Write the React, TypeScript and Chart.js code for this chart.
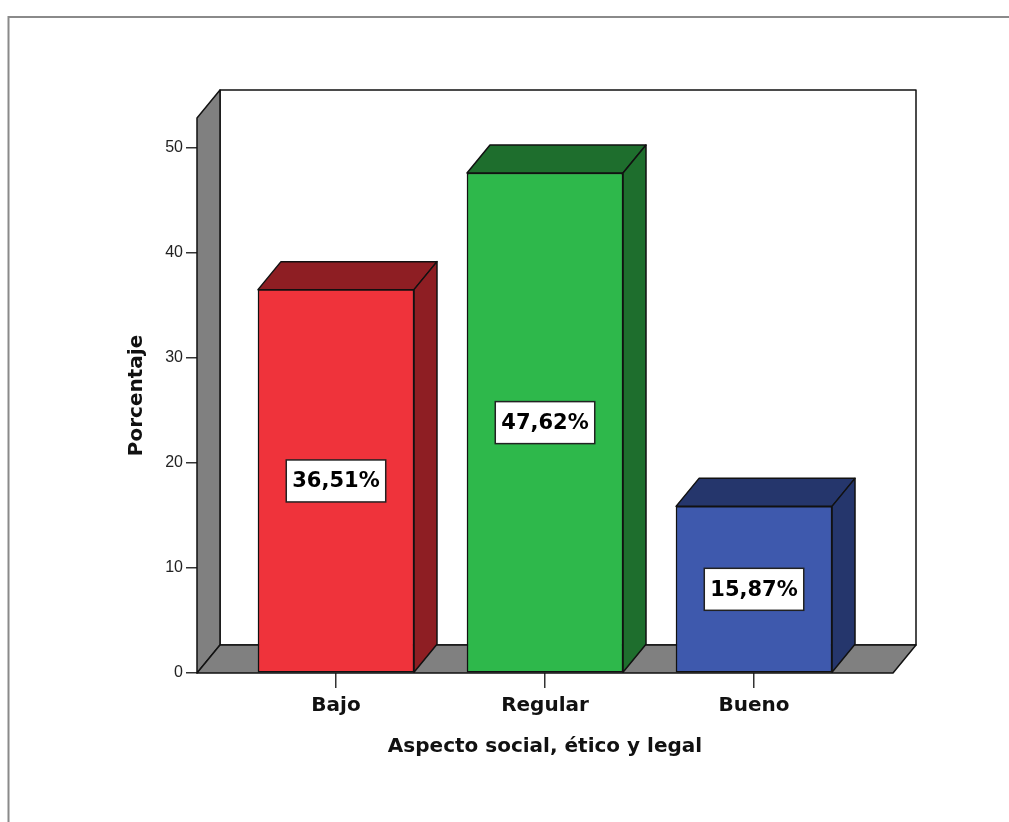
import { useEffect, useRef } from 'react';
import { Chart, registerables } from 'chart.js';

Chart.register(...registerables);

// Categories and percentages
const categories = ['Bajo', 'Regular', 'Bueno'];
const percentages = [36.51, 47.62, 15.87];
const yTickValues = [0, 10, 20, 30, 40, 50];

const xTitle = 'Aspecto social, ético y legal';
const yTitle = 'Porcentaje';

// Face colours: front face and the shaded top/side faces
const frontColors = ['#EF333B', '#2EB84B', '#3E59AD'];
const sideColors = ['#8E1E23', '#1E6E2D', '#25366C'];

const WALL_GRAY = '#808080';
const EDGE = '#111111';
const DEPTH_X = 23;
const DEPTH_Y = 28;

const BOLD_FONT = 'DejaVu Sans';

const formatPct = (v: number) => v.toFixed(2).replace('.', ',') + '%';

function poly(ctx: CanvasRenderingContext2D, pts: number[][], fill: string) {
  ctx.beginPath();
  ctx.moveTo(pts[0][0], pts[0][1]);
  for (let i = 1; i < pts.length; i++) ctx.lineTo(pts[i][0], pts[i][1]);
  ctx.closePath();
  ctx.fillStyle = fill;
  ctx.fill();
  ctx.stroke();
}

const box3d = {
  id: 'box3d',
  beforeDraw(chart: any) {
    const ctx: CanvasRenderingContext2D = chart.ctx;
    ctx.save();
    // outer frame
    ctx.strokeStyle = '#8a8a8a';
    ctx.lineWidth = 2;
    ctx.beginPath();
    ctx.moveTo(8.5, 822);
    ctx.lineTo(8.5, 17);
    ctx.lineTo(1009, 17);
    ctx.stroke();
    ctx.restore();
  },
  beforeDatasetsDraw(chart: any) {
    const ctx: CanvasRenderingContext2D = chart.ctx;
    const { left, right, top, bottom } = chart.chartArea;
    ctx.save();
    ctx.lineWidth = 1.5;
    ctx.strokeStyle = EDGE;
    ctx.lineJoin = 'round';
    // back wall
    poly(
      ctx,
      [
        [left + DEPTH_X, top - DEPTH_Y],
        [right + DEPTH_X, top - DEPTH_Y],
        [right + DEPTH_X, bottom - DEPTH_Y],
        [left + DEPTH_X, bottom - DEPTH_Y],
      ],
      '#ffffff'
    );
    // left wall
    poly(
      ctx,
      [
        [left, top],
        [left + DEPTH_X, top - DEPTH_Y],
        [left + DEPTH_X, bottom - DEPTH_Y],
        [left, bottom],
      ],
      WALL_GRAY
    );
    // floor
    poly(
      ctx,
      [
        [left, bottom],
        [left + DEPTH_X, bottom - DEPTH_Y],
        [right + DEPTH_X, bottom - DEPTH_Y],
        [right, bottom],
      ],
      WALL_GRAY
    );
    // top and side faces of each bar
    const meta = chart.getDatasetMeta(0);
    meta.data.forEach((bar: any, i: number) => {
      const { x, y, base, width } = bar.getProps(['x', 'y', 'base', 'width'], true);
      const x0 = x - width / 2;
      const x1 = x + width / 2;
      poly(
        ctx,
        [
          [x0, y],
          [x0 + DEPTH_X, y - DEPTH_Y],
          [x1 + DEPTH_X, y - DEPTH_Y],
          [x1, y],
        ],
        sideColors[i]
      );
      poly(
        ctx,
        [
          [x1, y],
          [x1 + DEPTH_X, y - DEPTH_Y],
          [x1 + DEPTH_X, base - DEPTH_Y],
          [x1, base],
        ],
        sideColors[i]
      );
    });
    ctx.restore();
  },
  afterDatasetsDraw(chart: any) {
    const ctx: CanvasRenderingContext2D = chart.ctx;
    const meta = chart.getDatasetMeta(0);
    ctx.save();
    ctx.font = `bold 21px "${BOLD_FONT}"`;
    ctx.textAlign = 'center';
    ctx.textBaseline = 'middle';
    meta.data.forEach((bar: any, i: number) => {
      const { x, y, base } = bar.getProps(['x', 'y', 'base'], true);
      const cy = (y + base) / 2;
      const text = formatPct(percentages[i]);
      const tw = ctx.measureText(text).width;
      const bw = tw + 12;
      const bh = 42;
      ctx.fillStyle = '#ffffff';
      ctx.fillRect(x - bw / 2, cy - bh / 2, bw, bh);
      ctx.lineWidth = 1.5;
      ctx.strokeStyle = '#222222';
      ctx.strokeRect(x - bw / 2, cy - bh / 2, bw, bh);
      ctx.fillStyle = '#000000';
      ctx.fillText(text, x, cy + 1);
    });
    ctx.restore();
  },
};

export default function App() {
  const canvasRef = useRef<HTMLCanvasElement | null>(null);

  useEffect(() => {
    const canvas = canvasRef.current;
    if (!canvas) return;
    const chart = new Chart(canvas, {
      type: 'bar',
      data: {
        datasets: [
          {
            data: categories.map((_, i) => ({ x: i, y: percentages[i] })),
            backgroundColor: frontColors,
            borderColor: EDGE,
            borderWidth: 1.5,
            borderSkipped: false,
            barThickness: 156,
          },
        ],
      },
      options: {
        responsive: false,
        animation: false,
        devicePixelRatio: 1,
        layout: { padding: { left: 117, top: 118, right: 116, bottom: 49 } },
        plugins: {
          legend: { display: false },
          tooltip: { enabled: false },
        },
        scales: {
          x: {
            type: 'linear',
            offset: false,
            min: -0.665,
            max: 2.665,
            afterBuildTicks: (s: any) => {
              s.ticks = categories.map((_, i) => ({ value: i }));
            },
            afterFit: (s: any) => {
              s.height = 100;
            },
            ticks: {
              autoSkip: false,
              maxRotation: 0,
              padding: 6,
              color: '#111111',
              font: { family: BOLD_FONT, weight: 'bold', size: 20 },
              callback: (v: any) => categories[v as number],
            },
            grid: {
              offset: false,
              drawOnChartArea: false,
              drawTicks: true,
              tickLength: 15,
              color: '#333333',
              lineWidth: 1.5,
            },
            border: { display: false },
            title: {
              display: true,
              text: xTitle,
              color: '#111111',
              font: { family: BOLD_FONT, weight: 'bold', size: 20 },
              padding: { top: 0, bottom: 14 },
            },
          },
          y: {
            min: 0,
            max: 555 / 10.5,
            afterBuildTicks: (s: any) => {
              s.ticks = yTickValues.map((v) => ({ value: v }));
            },
            afterFit: (s: any) => {
              s.width = 80;
            },
            ticks: {
              padding: 3,
              color: '#222222',
              font: { family: 'Liberation Sans', size: 16 },
            },
            grid: {
              drawOnChartArea: false,
              drawTicks: true,
              tickLength: 11,
              color: '#333333',
              lineWidth: 1.5,
            },
            border: { display: false },
            title: {
              display: true,
              text: yTitle,
              color: '#111111',
              font: { family: BOLD_FONT, weight: 'bold', size: 20 },
              padding: { top: 8, bottom: 0 },
            },
          },
        },
      } as any,
      plugins: [box3d],
    });
    return () => chart.destroy();
  }, []);

  return (
    <div style={{ position: 'absolute', left: 0, top: 0, width: 1009, height: 822, background: '#ffffff' }}>
      <canvas ref={canvasRef} width={1009} height={822} style={{ display: 'block' }} />
    </div>
  );
}
